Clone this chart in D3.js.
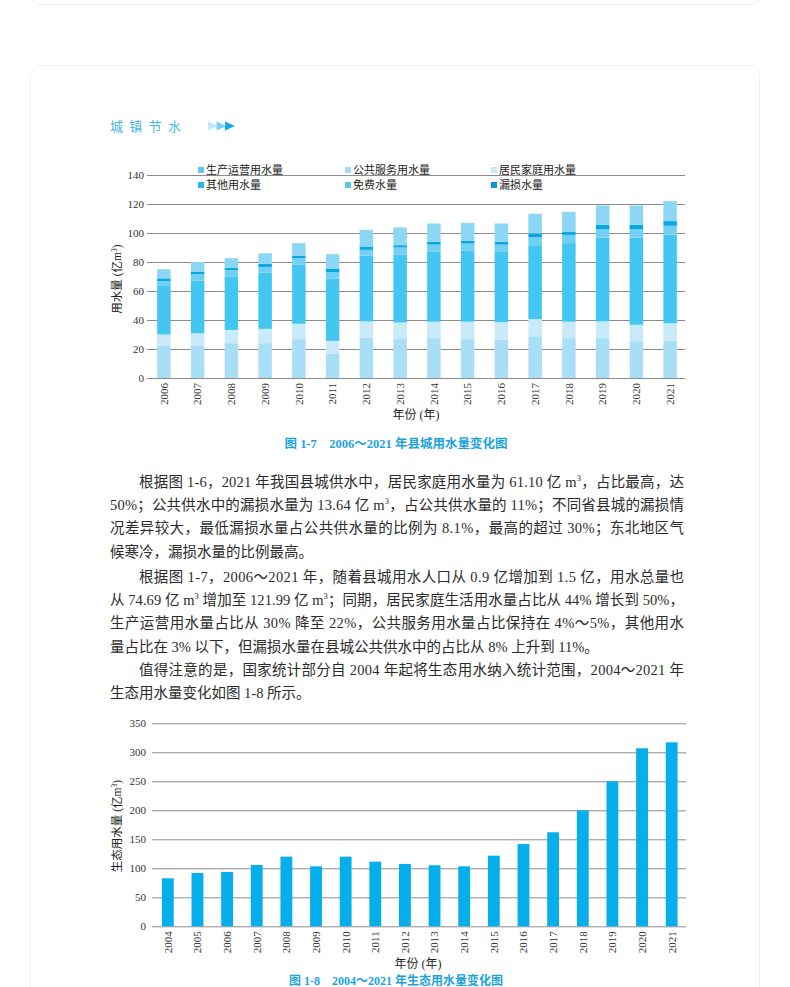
<!DOCTYPE html>
<html><head><meta charset="utf-8">
<script src="https://cdn.jsdelivr.net/npm/d3@7"></script>
<style>html,body{margin:0;padding:0;background:#fff;overflow:hidden}</style>
</head><body>
<svg id="c" width="790" height="987"></svg>
<script>
// ---------- data ----------
const years1 = ["2006","2007","2008","2009","2010","2011","2012","2013","2014","2015","2016","2017","2018","2019","2020","2021"];
const seriesNames = ["生产运营用水量","公共服务用水量","居民家庭用水量","其他用水量","免费水量","漏损水量"];
const prodVals  = [22.1,22.6,24.0,24.0,26.8,16.8,27.9,26.8,27.5,26.8,26.5,28.8,27.5,27.5,25.4,25.6];
const pubVals   = [7.9,8.3,9.2,9.9,10.6,8.8,11.1,11.5,11.3,12.0,12.0,11.8,11.3,11.5,11.3,12.2];
const resVals   = [33.4,36.2,36.5,38.8,40.8,42.9,45.4,46.8,48.2,48.9,48.9,51.0,54.2,57.9,60.2,61.1];
const otherVals = [3.5,4.6,4.8,3.9,4.4,4.6,4.0,4.9,5.0,5.0,4.6,5.5,5.7,5.8,5.8,6.1];
const freeVals  = [1.8,1.7,1.6,2.1,1.8,2.1,2.3,1.6,1.9,1.9,1.9,2.6,2.3,3.0,3.0,3.2];
const lossVals  = [6.3,6.6,6.5,7.3,8.6,10.2,11.5,12.2,12.7,12.4,12.7,13.6,13.6,13.3,13.3,13.8];
const ticks1 = [0,20,40,60,80,100,120,140];

const years2 = ["2004","2005","2006","2007","2008","2009","2010","2011","2012","2013","2014","2015","2016","2017","2018","2019","2020","2021"];
const ecoVals = [82.8,92.0,93.7,105.7,120.1,103.4,120.1,111.5,107.5,105.2,103.4,121.8,142.0,162.1,200.0,250.0,306.9,317.2];
const ticks2 = [0,50,100,150,200,250,300,350];

const paragraphs = [
  [["根据图 1-6，2021 年我国县城供水中，居民家庭用水量为 61.10 亿 m","3","，占比最高，达"],
   ["50%；公共供水中的漏损水量为 13.64 亿 m","3","，占公共供水量的 11%；不同省县城的漏损情"],
   ["况差异较大，最低漏损水量占公共供水量的比例为 8.1%，最高的超过 30%；东北地区气"],
   ["候寒冷，漏损水量的比例最高。"]],
  [["根据图 1-7，2006～2021 年，随着县城用水人口从 0.9 亿增加到 1.5 亿，用水总量也"],
   ["从 74.69 亿 m","3"," 增加至 121.99 亿 m","3","；同期，居民家庭生活用水量占比从 44% 增长到 50%，"],
   ["生产运营用水量占比从 30% 降至 22%，公共服务用水量占比保持在 4%～5%，其他用水"],
   ["量占比在 3% 以下，但漏损水量在县城公共供水中的占比从 8% 上升到 11%。"]],
  [["值得注意的是，国家统计部分自 2004 年起将生态用水纳入统计范围，2004～2021 年"],
   ["生态用水量变化如图 1-8 所示。"]]
];

// ---------- styles ----------
const barColors = ["#a9def7","#c9eaf9","#43c6f1","#72d0f3","#06a7e7","#8dd7f6"];
const legendColors = ["#5cc7ef","#a5dbf3","#cbe9f7","#2cb7ec","#5ec9f0","#0a93d8"];
const serif = "'Liberation Serif','Noto Sans CJK SC',serif";
const cjk = "'Liberation Serif','Noto Sans CJK SC',sans-serif";
const gridColor = "#8c8c8c";

const svg = d3.select("#c");

// page cards
svg.append("rect").attr("x",30.5).attr("y",-40).attr("width",729).attr("height",44.5)
  .attr("rx",9).attr("fill","#fff").attr("stroke","#edf1f6");
svg.append("rect").attr("x",30.5).attr("y",65.5).attr("width",729).attr("height",1000)
  .attr("rx",10).attr("fill","#fff").attr("stroke","#edf1f6");

// header
svg.append("text").attr("x",110).attr("y",131).attr("font-family","'Noto Sans CJK SC',sans-serif")
  .attr("font-size",13).attr("letter-spacing",6.3).attr("fill","#4ab6e6").text("城镇节水");
const triColors = ["#c2e7f8","#7fd0f3","#14a9e8"];
triColors.forEach((c,i)=>{
  const x0 = 208 + i*8.5;
  svg.append("path").attr("d",`M${x0},121.5 L${x0+10},126 L${x0},130.5 Z`).attr("fill",c);
});

// ---------- chart 1 ----------
const x1 = d3.scaleBand().domain(years1).range([147,687]).paddingInner(0.6).paddingOuter(0.3);
const y1 = d3.scaleLinear().domain([0,140]).range([378,175]);
const g1 = svg.append("g");
const ax1 = g1.append("g").attr("transform","translate(147,0)")
  .call(d3.axisLeft(y1).tickValues(ticks1).tickSizeInner(-538).tickSizeOuter(0).tickPadding(3));
ax1.select(".domain").remove();
ax1.selectAll(".tick line").attr("stroke",gridColor).attr("stroke-width",1);
ax1.selectAll(".tick text").attr("font-family",serif).attr("font-size",11).attr("fill","#333");

const rows1 = years1.map((y,i)=>({year:y,
  [seriesNames[0]]:prodVals[i],[seriesNames[1]]:pubVals[i],[seriesNames[2]]:resVals[i],
  [seriesNames[3]]:otherVals[i],[seriesNames[4]]:freeVals[i],[seriesNames[5]]:lossVals[i]}));
const stacked = d3.stack().keys(seriesNames)(rows1);
g1.selectAll("g.s").data(stacked).join("g").attr("class","s")
  .attr("fill",(d,i)=>barColors[i])
  .selectAll("rect").data(d=>d).join("rect")
  .attr("x",d=>x1(d.data.year)).attr("width",x1.bandwidth())
  .attr("y",d=>y1(d[1])).attr("height",d=>y1(d[0])-y1(d[1]));

const xa1 = g1.append("g").attr("transform","translate(0,378)")
  .call(d3.axisBottom(x1).tickSize(0));
xa1.select(".domain").remove();
xa1.selectAll(".tick text").attr("font-family",serif).attr("font-size",11).attr("fill","#333")
  .attr("transform","rotate(-90)").attr("text-anchor","end").attr("x",-5).attr("y",0).attr("dy","0.35em");

// y title
const yt1 = g1.append("text").attr("transform","translate(121,279) rotate(-90)")
  .attr("text-anchor","middle").attr("font-family",cjk).attr("font-size",11.5).attr("fill","#222");
yt1.append("tspan").text("用水量 (亿m");
yt1.append("tspan").attr("dy",-4).attr("font-size",7.5).text("3");
yt1.append("tspan").attr("dy",4).text(")");

g1.append("text").attr("x",416).attr("y",419).attr("text-anchor","middle")
  .attr("font-family",cjk).attr("font-size",12).attr("fill","#222").text("年份 (年)");

// legend
const legCols = [198,345,491], legRows = [170,185];
seriesNames.forEach((n,i)=>{
  const lx = legCols[i%3], ly = legRows[Math.floor(i/3)];
  g1.append("rect").attr("x",lx).attr("y",ly-3).attr("width",6).attr("height",6).attr("fill",legendColors[i]);
  g1.append("text").attr("x",lx+8).attr("y",ly+4).attr("font-family",cjk).attr("font-size",11)
    .attr("fill","#222").text(n);
});

svg.append("text").attr("x",396).attr("y",448).attr("text-anchor","middle")
  .attr("font-family","'Liberation Serif','Noto Sans CJK SC',sans-serif").attr("font-weight","bold")
  .attr("font-size",12.5).attr("fill","#1ba3de").text("图 1-7　2006～2021 年县城用水量变化图");

// ---------- body text ----------
const lineCenters = [[481,504.3,527.6,551],[576,599.3,622.6,646],[669.3,692.6]];
const textG = svg.append("g").attr("font-family",cjk).attr("font-size",14.5).attr("fill","#2b2b2b");
paragraphs.forEach((para,pi)=>{
  para.forEach((parts,li)=>{
    const indent = li===0;
    const last = li===para.length-1;
    const x0 = indent ? 139 : 110;
    const t = textG.append("text").attr("x",x0).attr("y",lineCenters[pi][li]+5.5);
    if(!last){ t.attr("textLength",684-x0).attr("lengthAdjust","spacing"); }
    parts.forEach((p,k)=>{
      if(p==="3"){
        t.append("tspan").attr("dy",-6).attr("font-size",8.5).text("3");
      } else {
        const ts = t.append("tspan").text(p);
        if(k>0 && parts[k-1]==="3") ts.attr("dy",6);
      }
    });
  });
});

// ---------- chart 2 ----------
const x2 = d3.scaleBand().domain(years2).range([153,686.5]).paddingInner(0.6).paddingOuter(0.3);
const y2 = d3.scaleLinear().domain([0,350]).range([926.3,723.3]);
const g2 = svg.append("g");
const ax2 = g2.append("g").attr("transform","translate(152,0)")
  .call(d3.axisLeft(y2).tickValues(ticks2).tickSizeInner(-534).tickSizeOuter(0).tickPadding(6));
ax2.select(".domain").remove();
ax2.selectAll(".tick line").attr("stroke",gridColor).attr("stroke-width",1);
ax2.selectAll(".tick text").attr("font-family",serif).attr("font-size",11).attr("fill","#333");

g2.selectAll("rect.b").data(ecoVals).join("rect").attr("class","b")
  .attr("x",(d,i)=>x2(years2[i])).attr("width",x2.bandwidth())
  .attr("y",d=>y2(d)).attr("height",d=>y2(0)-y2(d)).attr("fill","#06aeec");

const xa2 = g2.append("g").attr("transform","translate(0,926.3)")
  .call(d3.axisBottom(x2).tickSize(0));
xa2.select(".domain").remove();
xa2.selectAll(".tick text").attr("font-family",serif).attr("font-size",11).attr("fill","#333")
  .attr("transform","rotate(-90)").attr("text-anchor","end").attr("x",-5).attr("y",0).attr("dy","0.35em");

const yt2 = g2.append("text").attr("transform","translate(121,826) rotate(-90)")
  .attr("text-anchor","middle").attr("font-family",cjk).attr("font-size",11.5).attr("fill","#222");
yt2.append("tspan").text("生态用水量 (亿m");
yt2.append("tspan").attr("dy",-4).attr("font-size",7.5).text("3");
yt2.append("tspan").attr("dy",4).text(")");

g2.append("text").attr("x",418).attr("y",968).attr("text-anchor","middle")
  .attr("font-family",cjk).attr("font-size",12).attr("fill","#222").text("年份 (年)");

svg.append("text").attr("x",396).attr("y",984.5).attr("text-anchor","middle")
  .attr("font-family","'Liberation Serif','Noto Sans CJK SC',sans-serif").attr("font-weight","bold")
  .attr("font-size",12).attr("fill","#1ba3de").text("图 1-8　2004～2021 年生态用水量变化图");
</script>
</body></html>
